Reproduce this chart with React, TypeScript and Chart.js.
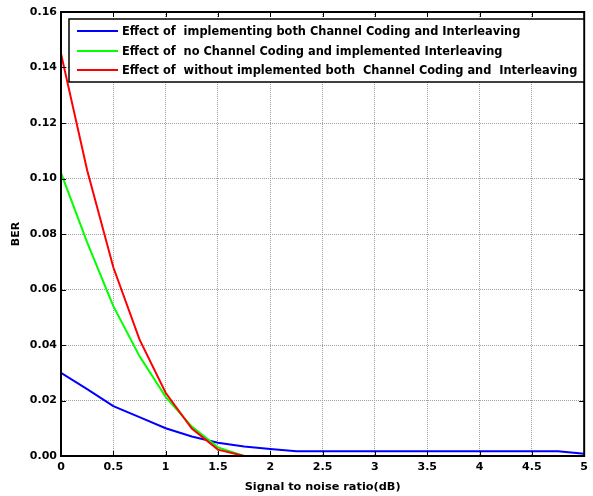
import React, { useEffect, useRef } from "react";
import { Chart, registerables } from "chart.js";

Chart.register(...registerables);

const snr = [0, 0.25, 0.5, 0.75, 1, 1.25, 1.5, 1.75, 2, 2.25, 2.5, 2.75, 3, 3.25, 3.5, 3.75, 4, 4.25, 4.5, 4.75, 5];
const berBoth = [0.030, 0.0241, 0.018, 0.014, 0.010, 0.007, 0.0048, 0.0034, 0.0025, 0.0017, 0.0017, 0.0017, 0.0017, 0.0017, 0.0017, 0.0017, 0.0017, 0.0017, 0.0017, 0.0017, 0.0008];
const berInterleaveOnly = [0.102, 0.077, 0.054, 0.036, 0.0213, 0.0106, 0.0031, 0, 0, 0, 0, 0, 0, 0, 0, 0, 0, 0, 0, 0, 0];
const berNone = [0.145, 0.103, 0.068, 0.042, 0.0228, 0.0099, 0.0023, 0, 0, 0, 0, 0, 0, 0, 0, 0, 0, 0, 0, 0, 0];
const seriesLabels = [
  "Effect of  implementing both Channel Coding and Interleaving",
  "Effect of  no Channel Coding and implemented Interleaving",
  "Effect of  without implemented both  Channel Coding and  Interleaving",
];
const seriesColors = ["#0000ff", "#00ff00", "#ff0000"];
const xTitle = "Signal to noise ratio(dB)";
const yTitle = "BER";

const FONT = "'DejaVu Sans', sans-serif";

const framePlugin = {
  id: "frame",
  afterDraw(chart: any) {
    const { ctx, chartArea } = chart;
    const { left, right, top, bottom } = chartArea;
    const xs = chart.scales.x;
    const ys = chart.scales.y;
    ctx.save();
    ctx.strokeStyle = "#000";
    ctx.lineWidth = 1;
    ctx.beginPath();
    xs.ticks.forEach((t: any) => {
      const px = Math.round(xs.getPixelForValue(t.value)) + 0.5;
      ctx.moveTo(px, bottom);
      ctx.lineTo(px, bottom - 5);
      ctx.moveTo(px, top);
      ctx.lineTo(px, top + 5);
    });
    ys.ticks.forEach((t: any) => {
      const py = Math.round(ys.getPixelForValue(t.value)) + 0.5;
      ctx.moveTo(left, py);
      ctx.lineTo(left + 5, py);
      ctx.moveTo(right, py);
      ctx.lineTo(right - 5, py);
    });
    ctx.stroke();
    ctx.lineWidth = 2;
    ctx.strokeStyle = "#000";
    ctx.strokeRect(left, top, right - left, bottom - top);

    // legend
    ctx.font = "bold 11.4px " + FONT;
    const bx = 69;
    const by = 19;
    const bw = 584 - 69;
    const bh = 82 - 19;
    ctx.fillStyle = "#fff";
    ctx.fillRect(bx, by, bw, bh);
    ctx.lineWidth = 1.5;
    ctx.strokeRect(bx, by, bw, bh);
    const rows = [31, 51, 70];
    seriesLabels.forEach((lab, i) => {
      ctx.strokeStyle = seriesColors[i];
      ctx.lineWidth = 2;
      ctx.beginPath();
      ctx.moveTo(77, rows[i]);
      ctx.lineTo(118, rows[i]);
      ctx.stroke();
      ctx.fillStyle = "#000";
      ctx.textBaseline = "middle";
      ctx.textAlign = "left";
      ctx.fillText(lab, 122, rows[i] + 1);
    });
    ctx.restore();
  },
};

export default function App() {
  const ref = useRef<HTMLCanvasElement | null>(null);
  useEffect(() => {
    document.body.style.margin = "0";
    const mk = (arr: number[]) => snr.map((x, i) => ({ x, y: arr[i] }));
    const chart = new Chart(ref.current as HTMLCanvasElement, {
      type: "line",
      data: {
        datasets: [
          { label: seriesLabels[0], data: mk(berBoth), borderColor: seriesColors[0], borderWidth: 2, pointRadius: 0, tension: 0, order: 2 },
          { label: seriesLabels[1], data: mk(berInterleaveOnly), borderColor: seriesColors[1], borderWidth: 2, pointRadius: 0, tension: 0, order: 1 },
          { label: seriesLabels[2], data: mk(berNone), borderColor: seriesColors[2], borderWidth: 2, pointRadius: 0, tension: 0, order: 0 },
        ],
      },
      options: {
        animation: false,
        responsive: false,
        layout: { padding: { left: 0, top: 12, right: 4, bottom: 0 } },
        plugins: { legend: { display: false }, tooltip: { enabled: false } },
        scales: {
          x: {
            type: "linear",
            min: 0,
            max: 5,
            ticks: { stepSize: 0.5, color: "#000", padding: 5, font: { family: FONT, size: 11, weight: "bold" }, maxRotation: 0, autoSkip: false, callback: (v: any) => String(v) },
            grid: { color: "#a0a0a0", drawTicks: false, lineWidth: 1 },
            border: { display: true, color: "#000", width: 2, dash: [1, 1] },
            title: { display: true, text: xTitle, color: "#000", font: { family: FONT, size: 11.3, weight: "bold" }, padding: { top: 0, bottom: 2 } },
            afterFit: (s: any) => { s.height = 40; },
          },
          y: {
            min: 0,
            max: 0.16,
            ticks: { stepSize: 0.02, color: "#000", padding: 4, font: { family: FONT, size: 11, weight: "bold" }, callback: (v: any) => Number(v).toFixed(2) },
            grid: { color: "#a0a0a0", drawTicks: false, lineWidth: 1 },
            border: { display: true, color: "#000", width: 2, dash: [1, 1] },
            title: { display: true, text: yTitle, color: "#000", font: { family: FONT, size: 11, weight: "bold" }, padding: { top: 10, bottom: 0 } },
            afterFit: (s: any) => { s.width = 61; },
          },
        },
      },
      plugins: [framePlugin],
    } as any);
    return () => chart.destroy();
  }, []);
  return <canvas ref={ref} width={593} height={496} style={{ display: "block" }} />;
}
